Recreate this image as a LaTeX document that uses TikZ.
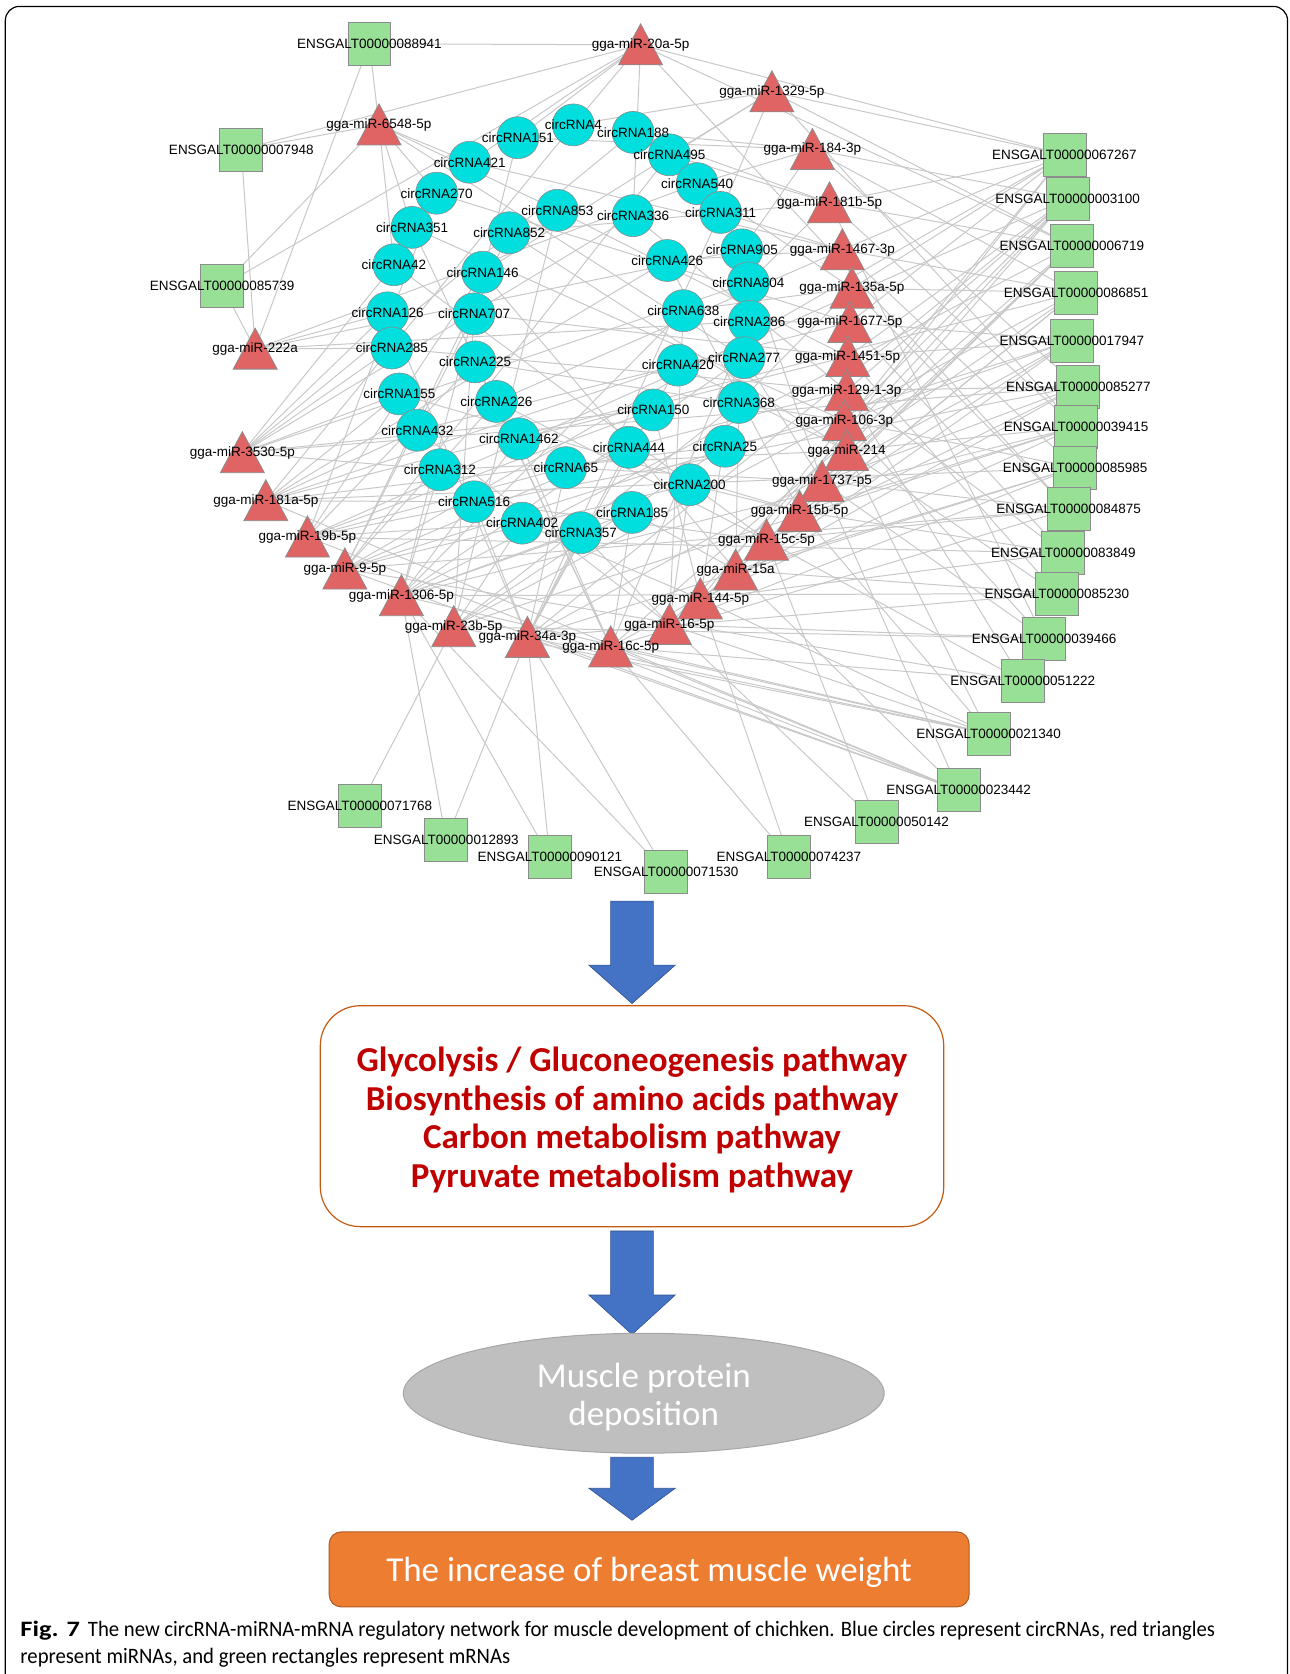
\documentclass[tikz,border=0pt]{standalone}
\usepackage{fontspec}
\setmainfont{Liberation Sans}
\newfontfamily\calibfont{Carlito}
\usetikzlibrary{shapes.geometric}
\pgfdeclarelayer{bg}
\pgfsetlayers{bg,main}
\definecolor{sqgreen}{HTML}{98E095}
\definecolor{cyanc}{HTML}{00DEDE}
\definecolor{trired}{HTML}{E06464}
\definecolor{edgegray}{HTML}{C8C8C8}
\definecolor{nodeborder}{HTML}{8C8C8C}
\definecolor{arrowblue}{HTML}{4472C4}
\definecolor{arrowborder}{HTML}{2F528F}
\definecolor{boxborder}{HTML}{C55A11}
\definecolor{pathred}{HTML}{C00000}
\definecolor{ellgray}{HTML}{BFBFBF}
\definecolor{ellborder}{HTML}{A6A6A6}
\definecolor{orangebox}{HTML}{ED7D31}
\definecolor{orangeborder}{HTML}{AE5A21}

\def\sqlist{m088941/346/41/ENSGALT00000088941, m007948/226/140/ENSGALT00000007948, m085739/208/268/ENSGALT00000085739, m067267/997/145/ENSGALT00000067267, m003100/1000/186/ENSGALT00000003100, m006719/1004/230/ENSGALT00000006719, m086851/1008/274/ENSGALT00000086851, m017947/1004/319/ENSGALT00000017947, m085277/1010/362/ENSGALT00000085277, m039415/1008/400/ENSGALT00000039415, m085985/1007/438/ENSGALT00000085985, m084875/1001/477/ENSGALT00000084875, m083849/996/518/ENSGALT00000083849, m085230/990/556/ENSGALT00000085230, m039466/978/598/ENSGALT00000039466, m051222/958/638/ENSGALT00000051222, m021340/926/687/ENSGALT00000021340, m023442/898/740/ENSGALT00000023442, m050142/821/770/ENSGALT00000050142, m074237/739/803/ENSGALT00000074237, m071530/624/817/ENSGALT00000071530, m090121/515/803/ENSGALT00000090121, m012893/418/787/ENSGALT00000012893, m071768/337/755/ENSGALT00000071768}

\def\trilist{t20a/600/42/gga-miR-20a-5p, t1329/723/86/gga-miR-1329-5p, t6548/355/117/gga-miR-6548-5p, t184/761/140/gga-miR-184-3p, t181b/777/190/gga-miR-181b-5p, t1467/789/234/gga-miR-1467-3p, t135a/798/270/gga-miR-135a-5p, t1677/796/302/gga-miR-1677-5p, t1451/794/334/gga-miR-1451-5p, t129/793/366/gga-miR-129-1-3p, t106/791/394/gga-miR-106-3p, t214/793/422/gga-miR-214, t1737/770/451/gga-mir-1737-p5, t15b/749/479/gga-miR-15b-5p, t15c/718/506/gga-miR-15c-5p, t15a/689/534/gga-miR-15a, t144/656/561/gga-miR-144-5p, t16/627/585/gga-miR-16-5p, t16c/572/606/gga-miR-16c-5p, t34a/494/597/gga-miR-34a-3p, t23b/425/587/gga-miR-23b-5p, t1306/376/558/gga-miR-1306-5p, t9/323/533/gga-miR-9-5p, t19b/288/503/gga-miR-19b-5p, t181a/249/469/gga-miR-181a-5p, t3530/227/424/gga-miR-3530-5p, t222a/239/327/gga-miR-222a}

\def\circlist{c4/537/117/circRNA4, c151/485/129/circRNA151, c188/593/124/circRNA188, c495/627/145/circRNA495, c421/440/152/circRNA421, c540/653/172/circRNA540, c270/409/181/circRNA270, c311/675/199/circRNA311, c853/522/197/circRNA853, c336/593/202/circRNA336, c351/386/213/circRNA351, c852/477/218/circRNA852, c905/695/234/circRNA905, c426/625/244/circRNA426, c42/369/248/circRNA42, c146/452/255/circRNA146, c804/701/265/circRNA804, c638/640/291/circRNA638, c286/702/301/circRNA286, c126/363/293/circRNA126, c707/444/294/circRNA707, c285/367/326/circRNA285, c225/445/339/circRNA225, c420/635/342/circRNA420, c277/697/335/circRNA277, c155/374/369/circRNA155, c226/465/376/circRNA226, c368/692/377/circRNA368, c150/612/384/circRNA150, c432/391/403/circRNA432, c1462/486/411/circRNA1462, c444/589/419/circRNA444, c25/679/418/circRNA25, c312/412/440/circRNA312, c65/530/438/circRNA65, c200/646/454/circRNA200, c516/444/470/circRNA516, c185/592/480/circRNA185, c402/489/490/circRNA402, c357/544/499/circRNA357}

\begin{document}
\begin{tikzpicture}[x=1.0679pt,y=-1.0679pt,
 sqnode/.style={draw=nodeborder, fill=sqgreen, minimum size=43pt, inner sep=0pt, line width=0.8pt},
 cinode/.style={circle, draw=nodeborder, fill=cyanc, minimum size=42pt, inner sep=0pt, line width=0.6pt},
 trifill/.style={draw=nodeborder, fill=trired, line width=0.8pt},
 lbl/.style={font=\fontsize{13.5}{16}\selectfont, inner sep=0pt, text=black},
 edge/.style={draw=edgegray, line width=1pt},
 blockarrow/.style={fill=arrowblue, draw=arrowborder, line width=0.6pt},
 flowtext/.style={font=\calibfont\fontsize{35}{38.4}\selectfont, align=center, inner sep=0pt},
]
\useasboundingbox (0,0) rectangle (1208,1568);

% frame
\draw[line width=1.2pt, rounded corners=14pt] (5,1568) -- (5,6) -- (1206,6) -- (1206,1568);

% shapes
\foreach \n/\x/\y/\t in \sqlist { \node[sqnode] (\n) at (\x,\y) {}; }
\foreach \n/\x/\y/\t in \circlist { \node[cinode] (\n) at (\x,\y) {}; }
\foreach \n/\x/\y/\t in \trilist {
  \coordinate (\n) at (\x,\y);
  \filldraw[trifill] ([xshift=-22pt,yshift=-20pt]\n) -- ([xshift=22pt,yshift=-20pt]\n) -- ([yshift=21pt]\n) -- cycle;
}

% edges
\begin{pgfonlayer}{bg}
\foreach \a/\b in {
 m088941/t20a, m088941/t6548, m088941/t222a,
 m007948/t6548, m007948/t20a, m007948/t222a,
 m085739/t6548, m085739/t222a, m085739/t20a,
 m067267/t181b, m067267/t1467, m067267/t135a, m067267/t1677, m067267/t20a, m067267/t15a, m067267/t144, m067267/t9, m067267/t1329,
 m003100/t184, m003100/t1451, m003100/t129, m003100/t106, m003100/t214, m003100/t16, m003100/t19b, m003100/t34a,
 m006719/t1329, m006719/t181b, m006719/t1737, m006719/t15b, m006719/t15c, m006719/t16c, m006719/t1306, m006719/t20a,
 m086851/t1467, m086851/t135a, m086851/t214, m086851/t15a, m086851/t144, m086851/t23b, m086851/t181a, m086851/t184,
 m017947/t1677, m017947/t1451, m017947/t106, m017947/t15b, m017947/t16, m017947/t34a, m017947/t9,
 m085277/t184, m085277/t129, m085277/t1737, m085277/t15c, m085277/t16c, m085277/t19b, m085277/t3530,
 m039415/t181b, m039415/t214, m039415/t15b, m039415/t144, m039415/t1306, m039415/t23b, m039415/t1329,
 m085985/t1467, m085985/t106, m085985/t15a, m085985/t16, m085985/t34a, m085985/t181a,
 m084875/t135a, m084875/t1737, m084875/t15c, m084875/t16c, m084875/t9, m084875/t20a,
 m083849/t1677, m083849/t129, m083849/t15b, m083849/t144, m083849/t19b,
 m085230/t1451, m085230/t214, m085230/t15a, m085230/t34a, m085230/t1306,
 m039466/t106, m039466/t1737, m039466/t16, m039466/t23b, m039466/t181b,
 m051222/t129, m051222/t15c, m051222/t16c, m051222/t9,
 m021340/t214, m021340/t15b, m021340/t144, m021340/t34a, m021340/t16, m021340/t1306, m021340/t23b, m021340/t16c,
 m023442/t1737, m023442/t15a, m023442/t16c, m023442/t19b, m023442/t34a, m023442/t9, m023442/t181a,
 m050142/t15c, m050142/t16,
 m074237/t16c, m074237/t144,
 m071530/t34a, m071530/t1306,
 m090121/t34a, m090121/t1306,
 m012893/t34a, m012893/t1306,
 m071768/t23b,
 c4/t20a, c4/t1329, c4/t181a,
 c151/t20a, c151/t184, c151/t1306,
 c188/t184, c188/t181b, c188/t3530,
 c495/t1329, c495/t181b, c495/t9,
 c421/t20a, c421/t6548, c421/t1467,
 c540/t184, c540/t135a, c540/t222a,
 c270/t6548, c270/t1677, c270/t19b,
 c311/t1329, c311/t1467, c311/t34a,
 c853/t6548, c853/t1451, c853/t23b,
 c336/t20a, c336/t129, c336/t3530,
 c351/t6548, c351/t106, c351/t16c,
 c852/t181b, c852/t214, c852/t9,
 c905/t184, c905/t1737, c905/t222a,
 c426/t1467, c426/t15b, c426/t181a,
 c42/t6548, c42/t3530, c42/t15c,
 c146/t1329, c146/t15a, c146/t19b,
 c804/t181b, c804/t144, c804/t3530,
 c638/t135a, c638/t16, c638/t1306,
 c286/t1677, c286/t16c, c286/t222a,
 c126/t3530, c126/t222a, c126/t34a,
 c707/t1451, c707/t23b, c707/t9,
 c285/t222a, c285/t3530, c285/t129,
 c225/t106, c225/t19b, c225/t16c,
 c420/t214, c420/t181a, c420/t34a,
 c277/t1737, c277/t1306, c277/t6548,
 c155/t3530, c155/t15b, c155/t181a,
 c226/t15c, c226/t9, c226/t1467,
 c368/t15a, c368/t23b, c368/t135a,
 c150/t144, c150/t3530, c150/t19b,
 c432/t181a, c432/t16, c432/t1677,
 c1462/t16c, c1462/t1306, c1462/t1451,
 c444/t34a, c444/t9, c444/t129,
 c25/t23b, c25/t181a, c25/t106,
 c312/t1306, c312/t3530, c312/t214,
 c65/t19b, c65/t1737, c65/t34a,
 c200/t15b, c200/t16, c200/t9,
 c516/t15c, c516/t34a, c516/t181a,
 c185/t15a, c185/t1306, c185/t16c,
 c402/t144, c402/t23b, c402/t19b,
 c357/t16, c357/t1306, c357/t34a}
 { \draw[edge] (\a.center) -- (\b.center); }
\end{pgfonlayer}

% labels
\foreach \n/\x/\y/\t in \sqlist { \node[lbl] at (\n) {\t}; }
\foreach \n/\x/\y/\t in \circlist { \node[lbl] at (\n) {\t}; }
\foreach \n/\x/\y/\t in \trilist { \node[lbl] at (\n) {\t}; }

% flow part
\filldraw[blockarrow] (572,844) -- (612,844) -- (612,904) -- (632.5,904) -- (592,940) -- (551.5,904) -- (572,904) -- cycle;
\node[draw=boxborder, line width=1.2pt, fill=white, rounded corners=40pt, minimum width=623.6pt, minimum height=221pt, inner sep=0pt] (pbox) at (592,1045.5) {};
\node[flowtext, text=pathred, font=\calibfont\bfseries\fontsize{35}{38.4}\selectfont] (ptext) at (592,1049) {Glycolysis / Gluconeogenesis pathway\\Biosynthesis of amino acids pathway\\Carbon metabolism pathway\\Pyruvate metabolism pathway};
\filldraw[blockarrow] (572,1153) -- (612,1153) -- (612,1213) -- (632.5,1213) -- (592,1250) -- (551.5,1213) -- (572,1213) -- cycle;
\node[ellipse, fill=ellgray, draw=ellborder, line width=1pt, minimum width=481pt, minimum height=120pt, inner sep=0pt] (ell) at (603,1305) {};
\node[flowtext, text=white] (etext) at (603,1308.5) {Muscle protein\\deposition};
\filldraw[blockarrow] (572,1365) -- (612,1365) -- (612,1394) -- (632.5,1394) -- (592,1424) -- (551.5,1394) -- (572,1394) -- cycle;
\node[fill=orangebox, draw=orangeborder, line width=1pt, rounded corners=12pt, minimum width=640pt, minimum height=75pt, inner sep=0pt] (obox) at (608,1470) {};
\node[flowtext, text=white] (otext) at (608,1473) {The increase of breast muscle weight};

% caption
\node[anchor=base west, inner sep=0pt, font=\calibfont\fontsize{22}{26}\selectfont] (cap1) at (19,1533) {\scalebox{1.2}[1]{\textbf{Fig. 7}}\hspace{8pt}\scalebox{0.9415}[1]{The new circRNA-miRNA-mRNA regulatory network for muscle development of chichken. Blue circles represent circRNAs, red triangles}};
\node[anchor=base west, inner sep=0pt, font=\calibfont\fontsize{22}{26}\selectfont] (cap2) at (19,1558) {\scalebox{0.9415}[1]{represent miRNAs, and green rectangles represent mRNAs}};
\end{tikzpicture}
\end{document}
